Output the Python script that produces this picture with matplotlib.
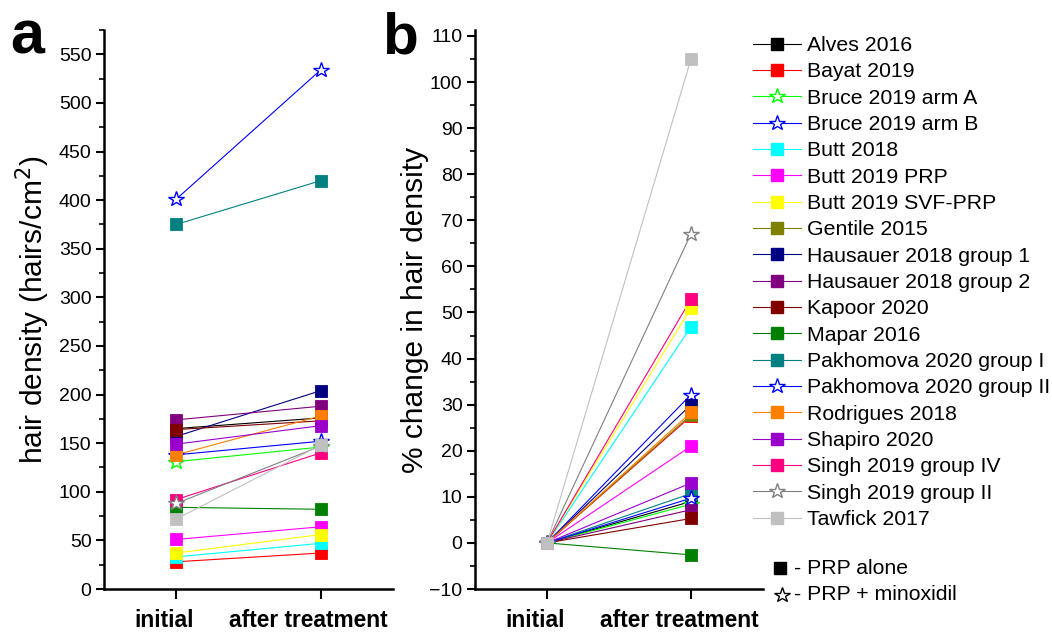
import numpy as np
import matplotlib
matplotlib.use("Agg")
import matplotlib.pyplot as plt
import matplotlib.transforms as mtransforms
from matplotlib.lines import Line2D
from matplotlib.ticker import MultipleLocator

plt.rcParams['font.family'] = ['Liberation Sans', 'DejaVu Sans']

studies = ["Alves 2016", "Bayat 2019", "Bruce 2019 arm A", "Bruce 2019 arm B",
           "Butt 2018", "Butt 2019 PRP", "Butt 2019 SVF-PRP", "Gentile 2015",
           "Hausauer 2018 group 1", "Hausauer 2018 group 2", "Kapoor 2020",
           "Mapar 2016", "Pakhomova 2020 group I", "Pakhomova 2020 group II",
           "Rodrigues 2018", "Shapiro 2020", "Singh 2019 group IV",
           "Singh 2019 group II", "Tawfick 2017"]
colors = ["#000000", "#FF0000", "#00FF00", "#0000FF", "#00FFFF", "#FF00FF",
          "#FFFF00", "#808000", "#000080", "#800080", "#800000", "#008000",
          "#008080", "#0000FF", "#FF8000", "#9900CC", "#FF0080", "#808080",
          "#C0C0C0"]
markers = ["s", "s", "*", "*", "s", "s", "s", "s", "s", "s", "s", "s", "s",
           "*", "s", "s", "s", "*", "s"]

# panel a: hair density (hairs/cm2)
dens_initial = [165, 28, 131, 401, 33, 51, 37, np.nan, 157, 174, 164, 84,
                375, 138, 138, 149, 92, 88, 72]
dens_after = [176, 37, 146, 534, 47, 64, 56, np.nan, 204, 188, 173, 82,
              420, 152, 178, 168, 140, 147, 148]
# panel b: % change in hair density
pct_initial = [0] * 19
pct_after = [9.0, 27.5, 8.4, 32.2, 46.9, 21.0, 51.0, 27.8, 30.0, 7.2, 5.3,
             -2.6, 10.7, 9.7, 28.3, 13.0, 52.9, 67.1, 105.0]

xlabels = ["initial", "after treatment"]

W, H = 1052, 637
fig = plt.figure(figsize=(W / 100, H / 100), dpi=100)


def ax_px(l, r, t, b):
    return fig.add_axes([l / W, 1 - b / H, (r - l) / W, (b - t) / H])


axa = ax_px(104, 393, 30, 589)
axb = ax_px(475, 763, 30, 589)

SQ = 8.0
ST = 11.5


def draw(ax, y0, y1):
    for i in range(len(studies)):
        if np.isnan(y0[i]):
            continue
        c = colors[i]
        ax.plot([1, 2], [y0[i], y1[i]], color=c, lw=0.8, zorder=2)
        if markers[i] == "s":
            ax.plot([1, 2], [y0[i], y1[i]], ls="none", marker="s", ms=SQ,
                    mfc=c, mec=c, mew=0.6, zorder=3)
        else:
            ax.plot([1, 2], [y0[i], y1[i]], ls="none", marker="*", ms=ST,
                    mfc="white", mec=c, mew=1.0, zorder=3)


draw(axa, dens_initial, dens_after)
draw(axb, pct_initial, pct_after)

shift = mtransforms.ScaledTranslation(-12 / 100, -20 / 100,
                                      fig.dpi_scale_trans)
for ax in (axa, axb):
    ax.set_xlim(0.5, 2.5)
    ax.set_xticks([1, 2])
    ax.set_xticklabels([])
    tr = ax.get_xaxis_transform() + shift
    for x, lab in zip([1, 2], xlabels):
        ax.text(x, 0, lab, transform=tr, ha="center", va="top",
                fontsize=16.4, fontweight="bold", clip_on=False)
    for s in ("top", "right"):
        ax.spines[s].set_visible(False)
    for s in ("left", "bottom"):
        ax.spines[s].set_linewidth(1.8)
    ax.tick_params(axis="y", which="major", length=6, width=1.5,
                   labelsize=14, pad=3)
    ax.tick_params(axis="y", which="minor", length=3.5, width=1.2)
    ax.tick_params(axis="x", which="major", length=7, width=1.5, pad=3)

axa.set_ylim(0, 575)
axa.yaxis.set_major_locator(MultipleLocator(50))
axa.yaxis.set_minor_locator(MultipleLocator(25))
axa.set_ylabel("hair density (hairs/cm$^2$)", fontsize=21.5, labelpad=5)

axb.set_ylim(-10, 111.3)
axb.yaxis.set_major_locator(MultipleLocator(10))
axb.yaxis.set_minor_locator(MultipleLocator(5))
axb.set_ylabel("% change in hair density", fontsize=21.5, labelpad=0)

fig.text(10 / W, 1 - 54 / H, "a", fontsize=44, fontweight="bold",
         va="baseline")
fig.text(382 / W, 1 - 54 / H, "b", fontsize=42, fontweight="bold",
         va="baseline")

FS = 15.3
handles = []
for i in range(len(studies)):
    if markers[i] == "s":
        h = Line2D([], [], color=colors[i], lw=0.8, marker="s", ms=SQ,
                   mfc=colors[i], mec=colors[i])
    else:
        h = Line2D([], [], color=colors[i], lw=0.8, marker="*", ms=ST,
                   mfc="white", mec=colors[i], mew=1.0)
    handles.append(h)
fig.legend(handles, studies, loc="upper left",
           bbox_to_anchor=(753 / W, 1 - 36 / H), frameon=False,
           fontsize=FS, handlelength=2.26, handletextpad=0.28,
           labelspacing=0.345, borderaxespad=0, borderpad=0)

fig.add_artist(Line2D([780 / W], [1 - 568 / H], marker="s", ms=SQ,
                      color="black", transform=fig.transFigure))
fig.add_artist(Line2D([782 / W], [1 - 595 / H], marker="*", ms=ST,
                      mfc="white", mec="black", mew=1.0, color="black",
                      transform=fig.transFigure))
fig.text(794 / W, 1 - 568 / H, "- PRP alone", fontsize=FS, va="center")
fig.text(794 / W, 1 - 595 / H, "- PRP + minoxidil", fontsize=FS,
         va="center")

fig.savefig("out.png", dpi=100)
